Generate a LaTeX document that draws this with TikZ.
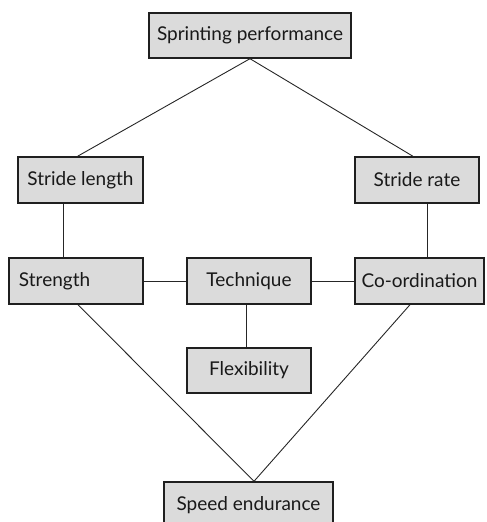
\documentclass[tikz,border=0pt]{standalone}
\usepackage{fontspec}
\setmainfont{Lato}
\tikzset{
  box/.style={draw=black!88, line width=1.4pt, fill=black!14, rectangle,
    inner sep=0pt, font=\fontsize{19}{21}\selectfont, text=black!90},
  link/.style={draw=black!85, line width=0.9pt}
}
\begin{document}
\begin{tikzpicture}[x=1pt, y=-1pt]
\useasboundingbox (0,0) rectangle (487,522);
\node[box, minimum width=202pt, minimum height=45pt] (sp) at (250,35.5) {Sprinting performance};
\node[box, minimum width=125pt, minimum height=46pt] (sl) at (80.5,180) {Stride length};
\node[box, minimum width=124pt, minimum height=46pt] (sr) at (417,180) {Stride rate};
\node[box, minimum width=134pt, minimum height=46pt, text width=114pt, inner xsep=10pt, align=left] (st) at (76,281) {Strength};
\node[box, minimum width=124pt, minimum height=46pt] (te) at (249,281) {Technique};
\node[box, minimum width=129pt, minimum height=46pt] (co) at (419.5,281) {Co-ordination};
\node[box, minimum width=124pt, minimum height=45pt] (fl) at (249,370.5) {Flexibility};
\node[box, minimum width=169pt, minimum height=46pt] (se) at (248.5,505) {Speed endurance};

\draw[link] (sp.south) -- ([xshift=-3pt]sl.north);
\draw[link] (sp.south) -- ([xshift=-4pt]sr.north);
\draw[link] ([xshift=-17pt]sl.south) -- ([xshift=-17pt]sl.south |- st.north);
\draw[link] ([xshift=10pt]sr.south) -- ([xshift=10pt]sr.south |- co.north);
\draw[link] (st.east) -- (te.west);
\draw[link] (te.east) -- (co.west);
\draw[link] ([xshift=-3pt]te.south) -- ([xshift=-3pt]te.south |- fl.north);
\draw[link] ([xshift=2pt]st.south) -- ([xshift=5.5pt]se.north);
\draw[link] ([xshift=-9.5pt]co.south) -- ([xshift=5.5pt]se.north);
\end{tikzpicture}
\end{document}
